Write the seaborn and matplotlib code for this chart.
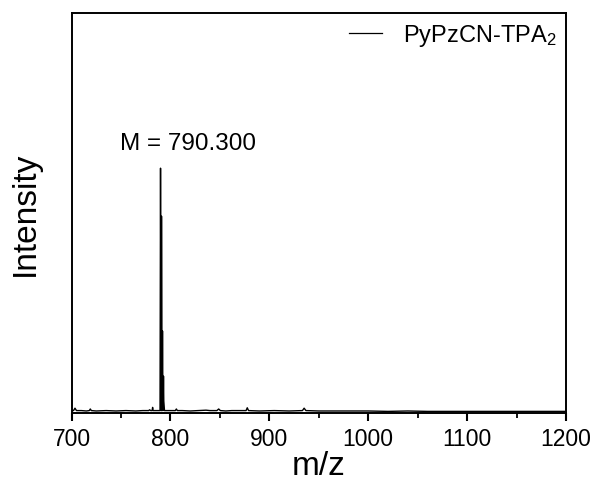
import matplotlib
matplotlib.use("Agg")
import matplotlib.pyplot as plt
from matplotlib.ticker import MultipleLocator
import seaborn as sns
import pandas as pd

# ---- data ----
mz = [700, 702, 703.5, 705, 710, 715, 718, 719, 720, 725, 735, 745, 755, 765,
      772, 778, 779, 780, 781.5, 782, 782.5, 786, 789.5,
      790.0, 790.3, 790.6, 790.8, 791.0, 791.3, 791.6, 792.0, 792.3, 792.6,
      793.0, 793.3, 794, 797, 800, 805, 806, 807, 812, 820, 828, 836, 840,
      847, 848.8, 850.5, 856, 862, 870, 876.5, 877.7, 879, 890, 905, 920,
      933.5, 935.2, 937, 950, 965, 980, 1000, 1020, 1040, 1060, 1080, 1100,
      1120, 1140, 1160, 1180, 1200]
intensity = [0.006, 0.006, 0.012, 0.006, 0.006, 0.005, 0.006, 0.010, 0.006, 0.005,
             0.006, 0.005, 0.006, 0.005, 0.006, 0.006, 0.008, 0.006, 0.006, 0.014,
             0.006, 0.006, 0.006,
             0.612, 0.300, 0.006, 0.006, 0.492, 0.200, 0.006, 0.205, 0.080,
             0.006, 0.092, 0.030, 0.006, 0.006, 0.006, 0.006, 0.010, 0.006,
             0.006, 0.005, 0.006, 0.007, 0.006, 0.006, 0.010, 0.006, 0.005,
             0.006, 0.006, 0.006, 0.013, 0.006, 0.005, 0.006, 0.005, 0.006,
             0.012, 0.006, 0.005, 0.005, 0.005, 0.005, 0.004, 0.005, 0.004,
             0.004, 0.004, 0.004, 0.004, 0.004, 0.004, 0.004]
series_name = "PyPzCN-TPA$_2$"
x_ticks = [700, 800, 900, 1000, 1100, 1200]
annotation = "M = 790.300"

df = pd.DataFrame({"m/z": mz, "Intensity": intensity, "sample": series_name})

plt.rcParams["font.family"] = ["Liberation Sans", "DejaVu Sans"]
plt.rcParams["mathtext.fontset"] = "custom"
plt.rcParams["mathtext.rm"] = "Liberation Sans"
plt.rcParams["mathtext.it"] = "Liberation Sans"

fig = plt.figure(figsize=(5.98, 4.89), dpi=100)
ax = fig.add_axes([0.1196, 0.1534, 0.8269, 0.818])

sns.lineplot(data=df, x="m/z", y="Intensity", hue="sample", palette=["black"],
             estimator=None, sort=False, linewidth=1.0, ax=ax)

ax.set_xlim(700, 1200)
ax.set_ylim(0, 1)
ax.set_xticks(x_ticks)
ax.xaxis.set_minor_locator(MultipleLocator(50))
ax.set_yticks([])
ax.tick_params(axis="x", which="major", bottom=True, direction="out",
               length=6, width=1.5, labelsize=16.5, pad=4, color="black",
               labelcolor="black")
ax.tick_params(axis="x", which="minor", bottom=True, direction="out",
               length=3.5, width=1.3, color="black")
for s in ax.spines.values():
    s.set_visible(True)
    s.set_linewidth(1.4)
    s.set_color("black")

ax.set_xlabel("m/z", fontsize=24, labelpad=0, color="black")
ax.set_ylabel("Intensity", fontsize=24, labelpad=22, color="black")

ax.text(818, 0.675, annotation, fontsize=17.5, ha="center", va="center",
        color="black")

leg = ax.legend(loc="upper right", frameon=False, fontsize=17, handlelength=1.4,
                handletextpad=0.9, borderaxespad=0.0)
for t in leg.get_texts():
    t.set_color("black")
for ln in leg.get_lines():
    ln.set_linewidth(0.9)

fig.savefig("out.png", dpi=100)
